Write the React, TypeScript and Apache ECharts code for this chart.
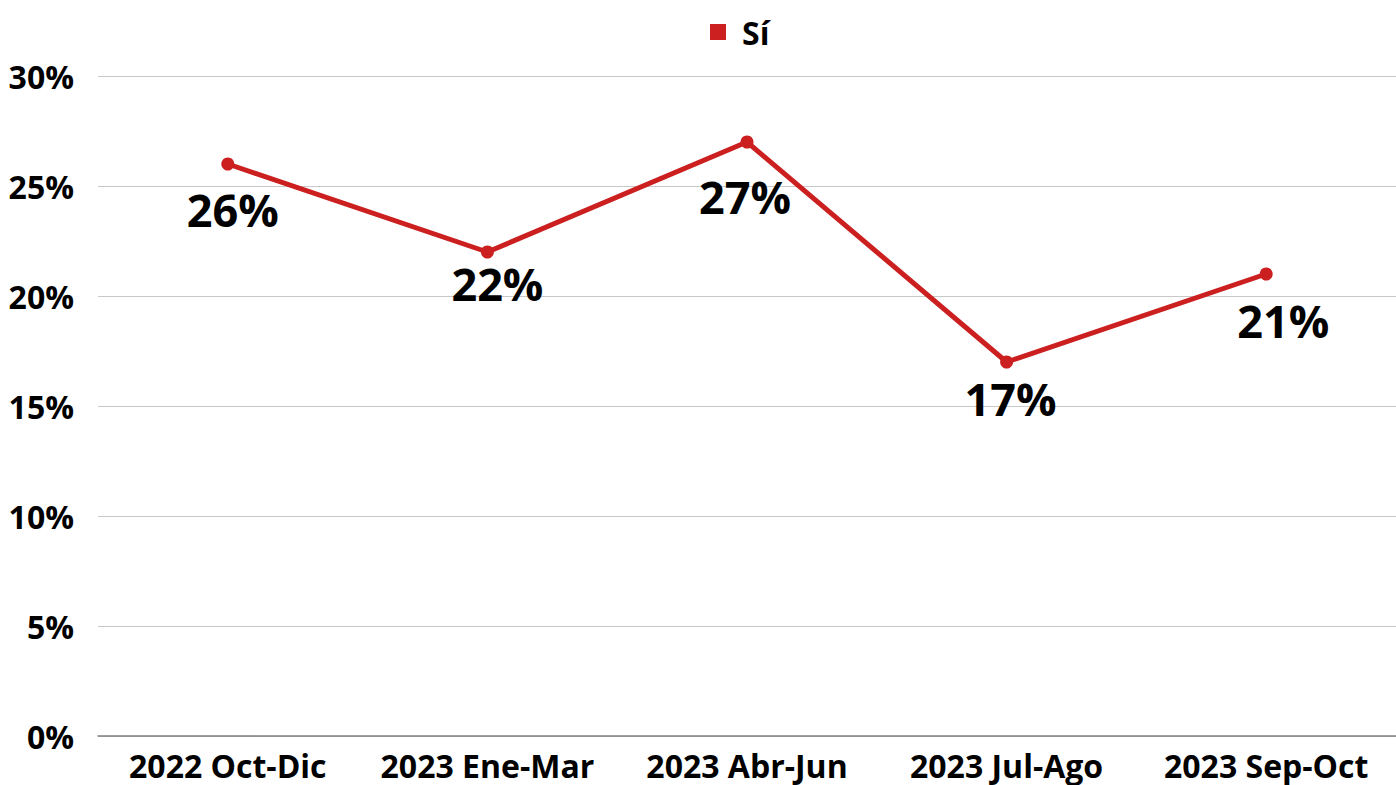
import React, { useEffect, useRef } from "react";
import * as echarts from "echarts";

const categories = ["2022 Oct-Dic", "2023 Ene-Mar", "2023 Abr-Jun", "2023 Jul-Ago", "2023 Sep-Oct"];
const seriesName = "Sí";
const values = [26, 22, 27, 17, 21];
const yTicks = [0, 5, 10, 15, 20, 25, 30];

// label style tweaks (dx, dy) relative to default bottom placement
const labelShifts: [number, number][] = [
  [5, 0],
  [10, -14],
  [-2, 9],
  [4, -9],
  [17, 1],
];

export default function App() {
  const ref = useRef<HTMLDivElement>(null);
  useEffect(() => {
    if (!ref.current) return;
    const chart = echarts.init(ref.current, null, { renderer: "svg" });
    const font = "'Open Sans', sans-serif";
    chart.setOption({
      animation: false,
      textStyle: { fontFamily: font },
      legend: {
        top: 11,
        left: 705,
        data: [{ name: seriesName, icon: "rect" }],
        itemWidth: 16,
        itemHeight: 16,
        itemGap: 10,
        textStyle: { fontFamily: font, fontWeight: "bold", fontSize: 32, color: "#000", padding: [0, 0, 0, 11] },
      },
      grid: { left: 98, right: -2, top: 76, bottom: 49, containLabel: false },
      xAxis: {
        type: "category",
        data: categories,
        boundaryGap: true,
        axisLine: { show: true, lineStyle: { color: "#808080", width: 1.5 } },
        axisTick: { show: false },
        axisLabel: {
          interval: 0,
          hideOverlap: false,
          fontFamily: font,
          fontWeight: "bold",
          fontSize: 32,
          lineHeight: 32,
          color: "#000",
          margin: 13,
        },
      },
      yAxis: {
        type: "value",
        min: yTicks[0],
        max: yTicks[yTicks.length - 1],
        interval: 5,
        axisLine: { show: false },
        axisTick: { show: false },
        splitLine: { lineStyle: { color: "#c8c8c8", width: 1 } },
        axisLabel: {
          fontFamily: font,
          fontWeight: "bold",
          fontSize: 32,
          color: "#000",
          margin: 24,
          formatter: (v: number) => v + "%",
        },
      },
      series: [
        {
          name: seriesName,
          type: "line",
          data: values.map((v, i) => ({
            value: v,
            label: { offset: labelShifts[i] },
          })),
          color: "#cc1f1f",
          lineStyle: { color: "#cc1f1f", width: 5 },
          symbol: "circle",
          symbolSize: 13,
          itemStyle: { color: "#cc1f1f" },
          label: {
            show: true,
            position: "bottom",
            distance: 16,
            fontFamily: font,
            fontWeight: "bold",
            fontSize: 45,
            color: "#000",
            formatter: (p: any) => p.value + "%",
          },
        },
      ],
    });
    return () => chart.dispose();
  }, []);
  return <div ref={ref} style={{ width: 1396, height: 785, position: "absolute", left: 0, top: 0 }} />;
}
